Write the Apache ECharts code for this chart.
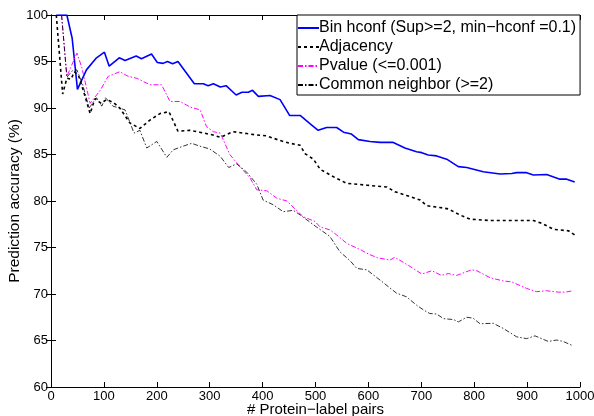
<!DOCTYPE html>
<html>
<head>
<meta charset="utf-8">
<script src="https://cdn.jsdelivr.net/npm/echarts@6/dist/echarts.min.js"></script>
<style>
html,body{margin:0;padding:0;background:#fff;}
#chart{width:594px;height:416px;}
</style>
</head>
<body>
<div id="chart"></div>
<script>
// ---- data ----
var seriesNames = ['Bin hconf (Sup>=2, min\u2212hconf =0.1)', 'Adjacency', 'Pvalue (<=0.001)', 'Common neighbor (>=2)'];

var binX = [10, 30, 40, 50, 67, 86, 101, 110, 129, 140, 161, 171, 190, 201, 212, 220, 230, 240, 271, 288, 297, 307, 320, 331, 350, 361, 373, 381, 392, 414, 433, 451, 471, 490, 505, 521, 540, 553, 568, 581, 603, 622, 647, 669, 691, 701, 713, 729, 748, 770, 786, 817, 849, 871, 880, 899, 912, 937, 962, 975, 990];
var binY = [100, 100, 97.5, 92.0, 94.1, 95.4, 96.0, 94.5, 95.4, 95.1, 95.6, 95.3, 95.8, 94.9, 94.8, 95.0, 94.75, 95.0, 92.6, 92.6, 92.4, 92.6, 92.25, 92.4, 91.4, 91.7, 91.7, 91.9, 91.25, 91.35, 90.9, 89.2, 89.2, 88.3, 87.6, 87.9, 87.9, 87.4, 87.2, 86.6, 86.4, 86.3, 86.3, 85.7, 85.3, 85.2, 84.95, 84.85, 84.5, 83.7, 83.6, 83.15, 82.9, 82.95, 83.05, 83.05, 82.8, 82.85, 82.35, 82.35, 82.05];

var adjX = [10, 22, 30, 38, 44, 52, 61, 74, 83, 95, 105, 118, 130, 149, 168, 187, 206, 223, 240, 262, 281, 306, 320, 344, 370, 389, 408, 433, 452, 471, 480, 496, 509, 534, 559, 597, 635, 650, 672, 698, 710, 735, 751, 773, 792, 830, 912, 928, 950, 978, 990];
var adjY = [100, 91.5, 93.2, 93.1, 93.9, 93.5, 91.9, 89.4, 91.0, 90.5, 90.9, 90.6, 90.0, 88.4, 87.8, 88.7, 89.4, 89.6, 87.5, 87.6, 87.4, 87.1, 86.85, 87.45, 87.25, 87.1, 87.0, 86.5, 86.2, 86.0, 85.1, 84.5, 83.4, 82.6, 81.9, 81.7, 81.5, 81.0, 80.6, 80.1, 79.5, 79.3, 79.15, 78.5, 78.05, 77.9, 77.9, 77.6, 76.95, 76.8, 76.35];

var pvX = [20, 30, 49, 58, 74, 93, 108, 130, 146, 162, 187, 209, 225, 244, 263, 282, 294, 307, 320, 338, 357, 376, 389, 408, 427, 446, 462, 477, 499, 509, 527, 540, 559, 587, 600, 617, 641, 650, 675, 701, 720, 738, 751, 767, 795, 805, 830, 855, 871, 899, 918, 937, 959, 972, 987];
var pvY = [100, 93.4, 95.9, 94.4, 90.5, 91.9, 93.4, 93.9, 93.4, 93.2, 92.5, 92.5, 90.7, 90.7, 90.1, 89.8, 88.0, 87.45, 87.3, 85.0, 83.7, 82.5, 81.2, 81.1, 80.3, 80.0, 79.1, 78.3, 77.8, 77.2, 76.9, 76.35, 75.45, 74.7, 74.3, 73.9, 73.65, 73.95, 73.1, 72.15, 72.5, 72.0, 72.2, 72.0, 72.6, 72.5, 71.75, 71.4, 71.3, 70.6, 70.25, 70.35, 70.2, 70.2, 70.35];

var cnX = [20, 30, 40, 49, 60, 72, 86, 96, 103, 117, 140, 157, 168, 181, 200, 219, 231, 250, 266, 281, 300, 320, 336, 351, 370, 389, 401, 420, 439, 458, 471, 502, 527, 546, 565, 578, 597, 622, 644, 653, 672, 691, 704, 716, 729, 742, 761, 770, 786, 798, 811, 836, 855, 880, 899, 915, 940, 956, 968, 984];
var cnY = [100, 93.3, 94.0, 94.1, 92.5, 90.0, 91.1, 90.2, 91.1, 90.2, 89.8, 87.3, 87.6, 85.7, 86.4, 84.7, 85.5, 85.9, 86.2, 85.9, 85.6, 84.8, 83.6, 84.0, 83.1, 81.8, 80.1, 79.6, 78.85, 79.0, 78.5, 77.2, 76.2, 74.55, 73.6, 72.75, 72.6, 71.5, 70.5, 70.1, 69.7, 68.8, 68.3, 67.9, 67.85, 67.35, 67.25, 67.0, 67.5, 67.4, 66.8, 66.85, 66.3, 65.4, 65.2, 65.5, 64.9, 65.05, 64.9, 64.5];

function pairs(xs, ys) { return xs.map(function (x, i) { return [x, ys[i]]; }); }

var FONT = '"Liberation Sans", Arial, Helvetica, sans-serif';
var chart = echarts.init(document.getElementById('chart'), null, {renderer: 'canvas'});

var axisCommon = {
  axisLine: {show: true, lineStyle: {color: '#000', width: 1}},
  splitLine: {show: false}
};
var plain = function (v) { return String(v); };

chart.setOption({
  animation: false,
  backgroundColor: '#fff',
  grid: {left: 51, right: 14, top: 15, bottom: 29, containLabel: false, outerBoundsMode: 'none'},
  legend: {
    data: seriesNames,
    orient: 'vertical',
    left: 297,
    top: 15,
    itemWidth: 21,
    itemHeight: 10,
    itemGap: 3,
    padding: [5, 4, 2, 0],
    backgroundColor: '#fff',
    borderColor: '#000',
    borderWidth: 1,
    borderRadius: 0,
    itemStyle: {opacity: 0},
    textStyle: {fontFamily: FONT, fontSize: 16, lineHeight: 16, color: '#000', padding: [0, 0, 0, -5]}
  },
  xAxis: [
    Object.assign({
      type: 'value', min: 0, max: 1000, interval: 100, position: 'bottom',
      name: '# Protein\u2212label pairs', nameLocation: 'middle', nameGap: 15, nameMoveOverlap: false,
      nameTextStyle: {fontFamily: FONT, fontSize: 15, color: '#000', verticalAlign: 'top'},
      axisTick: {show: true, inside: true, length: 5, lineStyle: {color: '#000'}},
      axisLabel: {fontFamily: FONT, fontSize: 13, color: '#000', margin: 3, formatter: plain}
    }, axisCommon),
    Object.assign({
      type: 'value', min: 0, max: 1000, interval: 100, position: 'top',
      axisTick: {show: true, inside: true, length: 5, lineStyle: {color: '#000'}},
      axisLabel: {show: false}
    }, axisCommon)
  ],
  yAxis: [
    Object.assign({
      type: 'value', min: 60, max: 100, interval: 5, position: 'left',
      name: 'Prediction accuracy (%)', nameLocation: 'middle', nameGap: 28, nameMoveOverlap: false,
      nameTextStyle: {fontFamily: FONT, fontSize: 15.5, color: '#000'},
      axisTick: {show: true, inside: true, length: 5, lineStyle: {color: '#000'}},
      axisLabel: {fontFamily: FONT, fontSize: 13, color: '#000', margin: 3, formatter: plain}
    }, axisCommon),
    Object.assign({
      type: 'value', min: 60, max: 100, interval: 5, position: 'right',
      axisTick: {show: true, inside: true, length: 5, lineStyle: {color: '#000'}},
      axisLabel: {show: false}
    }, axisCommon)
  ],
  series: [
    {
      name: seriesNames[0], type: 'line', data: pairs(binX, binY),
      showSymbol: false, symbol: 'none', clip: true,
      lineStyle: {color: '#0000ff', width: 1.6, type: 'solid'},
      itemStyle: {color: '#0000ff'}
    },
    {
      name: seriesNames[1], type: 'line', data: pairs(adjX, adjY),
      showSymbol: false, symbol: 'none', clip: true,
      lineStyle: {color: '#000', width: 1.6, type: [3, 3]},
      itemStyle: {color: '#000'}
    },
    {
      name: seriesNames[2], type: 'line', data: pairs(pvX, pvY),
      showSymbol: false, symbol: 'none', clip: true,
      lineStyle: {color: '#ff00ff', width: 1, type: [5, 2, 1.5, 2]},
      itemStyle: {color: '#ff00ff'}
    },
    {
      name: seriesNames[3], type: 'line', data: pairs(cnX, cnY),
      showSymbol: false, symbol: 'none', clip: true,
      lineStyle: {color: '#000', width: 0.8, type: [5, 2, 1.5, 2]},
      itemStyle: {color: '#000'}
    }
  ]
});
</script>
</body>
</html>
